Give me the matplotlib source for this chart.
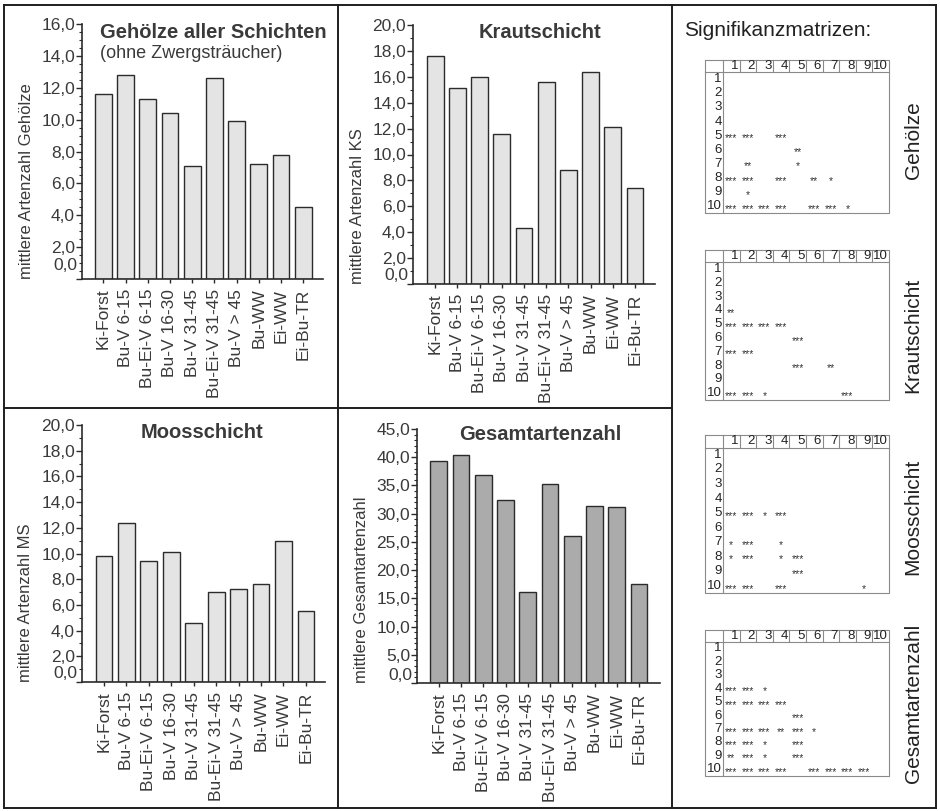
import matplotlib
matplotlib.use("Agg")
import matplotlib.pyplot as plt
from matplotlib.ticker import FixedLocator, MultipleLocator, FuncFormatter
from matplotlib.lines import Line2D
from matplotlib.transforms import ScaledTranslation

plt.rcParams['font.family'] = ['Liberation Sans', 'DejaVu Sans']

# ---------------------------------------------------------------- data
categories = ["Ki-Forst", "Bu-V 6-15", "Bu-Ei-V 6-15", "Bu-V 16-30", "Bu-V 31-45",
              "Bu-Ei-V 31-45", "Bu-V > 45", "Bu-WW", "Ei-WW", "Ei-Bu-TR"]

gehoelze = [11.6, 12.8, 11.3, 10.4, 7.1, 12.6, 9.9, 7.2, 7.8, 4.5]
krautschicht = [17.6, 15.1, 16.0, 11.6, 4.3, 15.6, 8.8, 16.4, 12.1, 7.4]
moosschicht = [9.8, 12.4, 9.4, 10.1, 4.6, 7.0, 7.2, 7.6, 11.0, 5.5]
gesamtartenzahl = [39.3, 40.4, 36.9, 32.4, 16.1, 35.3, 26.0, 31.4, 31.2, 17.6]

matrix_labels = [str(i) for i in range(1, 11)]

# significance entries: (row, column, level)
sig_gehoelze = [
    (5, 1, "***"), (5, 2, "***"), (5, 4, "***"),
    (6, 5, "**"),
    (7, 2, "**"), (7, 5, "*"),
    (8, 1, "***"), (8, 2, "***"), (8, 4, "***"), (8, 6, "**"), (8, 7, "*"),
    (9, 2, "*"),
    (10, 1, "***"), (10, 2, "***"), (10, 3, "***"), (10, 4, "***"),
    (10, 6, "***"), (10, 7, "***"), (10, 8, "*"),
]
sig_kraut = [
    (4, 1, "**"),
    (5, 1, "***"), (5, 2, "***"), (5, 3, "***"), (5, 4, "***"),
    (6, 5, "***"),
    (7, 1, "***"), (7, 2, "***"),
    (8, 5, "***"), (8, 7, "**"),
    (10, 1, "***"), (10, 2, "***"), (10, 3, "*"), (10, 8, "***"),
]
sig_moos = [
    (5, 1, "***"), (5, 2, "***"), (5, 3, "*"), (5, 4, "***"),
    (7, 1, "*"), (7, 2, "***"), (7, 4, "*"),
    (8, 1, "*"), (8, 2, "***"), (8, 4, "*"), (8, 5, "***"),
    (9, 5, "***"),
    (10, 1, "***"), (10, 2, "***"), (10, 4, "***"), (10, 9, "*"),
]
sig_gesamt = [
    (4, 1, "***"), (4, 2, "***"), (4, 3, "*"),
    (5, 1, "***"), (5, 2, "***"), (5, 3, "***"), (5, 4, "***"),
    (6, 5, "***"),
    (7, 1, "***"), (7, 2, "***"), (7, 3, "***"), (7, 4, "**"), (7, 5, "***"), (7, 6, "*"),
    (8, 1, "***"), (8, 2, "***"), (8, 3, "*"), (8, 5, "***"),
    (9, 1, "**"), (9, 2, "***"), (9, 3, "*"), (9, 5, "***"),
    (10, 1, "***"), (10, 2, "***"), (10, 3, "***"), (10, 4, "***"),
    (10, 6, "***"), (10, 7, "***"), (10, 8, "***"), (10, 9, "***"),
]

# ---------------------------------------------------------------- figure
W, H = 940, 811
fig = plt.figure(figsize=(W / 100, H / 100), dpi=100)
fig.patch.set_facecolor("white")

INK = "#2b2b2b"
TXT = "#3a3a3a"


def rect(x0, y0, x1, y1):
    """pixel box (top-left origin) -> figure fraction rect"""
    return [x0 / W, 1 - y1 / H, (x1 - x0) / W, (y1 - y0) / H]


def fx(x):
    return x / W


def fy(y):
    return 1 - y / H


def comma(v, _pos=None):
    return f"{v:.1f}".replace(".", ",")


def bar_panel(box, xlim, values, ymax, major, minor, color, ylabel,
              ylabel_x, zero_shift_px):
    ax = fig.add_axes(rect(*box))
    x = list(range(len(values)))
    ax.bar(x, values, width=0.75, color=color, edgecolor=INK, linewidth=1.0,
           zorder=2)
    ax.set_xlim(*xlim)
    ax.set_ylim(0, ymax)
    for s in ("top", "right"):
        ax.spines[s].set_visible(False)
    for s in ("left", "bottom"):
        ax.spines[s].set_color(INK)
        ax.spines[s].set_linewidth(1.2)
    ax.set_facecolor("none")

    ax.yaxis.set_major_locator(MultipleLocator(major))
    ax.yaxis.set_minor_locator(MultipleLocator(minor))
    ax.yaxis.set_major_formatter(
        FuncFormatter(lambda v, p: "" if abs(v) < 1e-9 else comma(v)))
    ax.tick_params(axis="y", which="major", length=4, width=1.0, color=INK,
                   labelsize=12.5, labelcolor=TXT, pad=1)
    ax.tick_params(axis="y", which="minor", length=2.5, width=0.8, color=INK)
    # the zero label sits a little above the baseline
    off = ScaledTranslation(-5 / 100, zero_shift_px / 100, fig.dpi_scale_trans)
    ax.text(0, 0, comma(0), transform=ax.get_yaxis_transform() + off,
            ha="right", va="center", fontsize=12.5, color=TXT)

    ax.xaxis.set_major_locator(FixedLocator(x))
    ax.set_xticklabels(categories, rotation=90, fontsize=12.5, color=TXT)
    ax.tick_params(axis="x", length=3, width=1.0, color=INK, pad=4)

    fig.text(fx(ylabel_x), fy(box[3]), ylabel, rotation=90, ha="center",
             va="bottom", fontsize=12, color=TXT)
    return ax


bar_panel((82, 24, 323, 279), (-0.96, 9.89), gehoelze, 16, 2, 0.5,
          "#e4e4e4", "mittlere Artenzahl Gehölze", 27, 14)
bar_panel((413, 25, 655, 284), (-1.0, 9.9), krautschicht, 20, 2, 1,
          "#e4e4e4", "mittlere Artenzahl KS", 358, 9)
bar_panel((82, 425, 325, 682), (-0.98, 9.85), moosschicht, 20, 2, 1,
          "#e4e4e4", "mittlere Artenzahl MS", 26, 8)
bar_panel((417, 429, 660, 683), (-0.98, 9.94), gesamtartenzahl, 45, 5, 1,
          "#ababab", "mittlere Gesamtartenzahl", 361, 8)

# panel titles
fig.text(fx(100), fy(32), "Gehölze aller Schichten", ha="left", va="center",
         fontsize=14.5, fontweight="bold", color=TXT)
fig.text(fx(100), fy(54), "(ohne Zwergsträucher)", ha="left", va="center",
         fontsize=13, color=TXT)
fig.text(fx(540), fy(32), "Krautschicht", ha="center", va="center",
         fontsize=14.5, fontweight="bold", color=TXT)
fig.text(fx(202), fy(433), "Moosschicht", ha="center", va="center",
         fontsize=14.5, fontweight="bold", color=TXT)
fig.text(fx(540), fy(435), "Gesamtartenzahl", ha="center", va="center",
         fontsize=14.5, fontweight="bold", color=TXT)

# ---------------------------------------------------------------- matrices
fig.text(fx(684), fy(31), "Signifikanzmatrizen:", ha="left", va="center",
         fontsize=15, color="#222222")

GRID = "#8a8a8a"
LABW = 1.08   # width of the row-label column in cell units
HEADH = 0.87  # height of the header row in cell units


def sig_matrix(box, entries, side_label, label_y):
    ax = fig.add_axes(rect(*box))
    ax.set_xlim(-LABW, 10)
    ax.set_ylim(10, -HEADH)
    ax.axis("off")
    n = len(matrix_labels)
    lw = 0.8
    # outer frame, header rule, label column rule
    ax.plot([-LABW, 10, 10, -LABW, -LABW], [-HEADH, -HEADH, 10, 10, -HEADH],
            color=GRID, lw=lw, clip_on=False)
    ax.plot([-LABW, 10], [0, 0], color=GRID, lw=lw, clip_on=False)
    ax.plot([0, 0], [-HEADH, 10], color=GRID, lw=lw, clip_on=False)
    for c in range(1, n):
        ax.plot([c, c], [-HEADH, 0], color=GRID, lw=lw, clip_on=False)
    for i, lab in enumerate(matrix_labels):
        ax.text(i + 0.92, -HEADH / 2, lab, ha="right", va="center",
                fontsize=9.5, color="#222222")
        ax.text(-0.08, i + 0.5, lab, ha="right", va="center",
                fontsize=9.5, color="#222222")
    for r, c, s in entries:
        ax.text(c - 0.5, r - 0.3, s, ha="center", va="center",
                fontsize=7.5, color="#333333")
    fig.text(fx(913), fy(label_y), side_label, rotation=90, ha="center",
             va="center", fontsize=15, color="#222222")


sig_matrix((705, 60, 889, 213), sig_gehoelze, "Gehölze", 140)
sig_matrix((705, 250, 889, 400), sig_kraut, "Krautschicht", 335)
sig_matrix((705, 435, 889, 593), sig_moos, "Moosschicht", 517)
sig_matrix((705, 630, 889, 776), sig_gesamt, "Gesamtartenzahl", 703)

# ---------------------------------------------------------------- frame
FRAME = "#1e1e1e"


def hline(y, x0, x1):
    fig.add_artist(Line2D([fx(x0), fx(x1)], [fy(y), fy(y)], color=FRAME,
                          lw=1.4, transform=fig.transFigure))


def vline(x, y0, y1):
    fig.add_artist(Line2D([fx(x), fx(x)], [fy(y0), fy(y1)], color=FRAME,
                          lw=1.4, transform=fig.transFigure))


hline(5, 4, 936)
hline(808, 4, 936)
vline(4, 5, 808)
vline(936, 5, 808)
vline(338, 5, 808)
vline(672, 5, 808)
hline(408, 4, 672)

fig.savefig("out.png", dpi=100, facecolor="white")
